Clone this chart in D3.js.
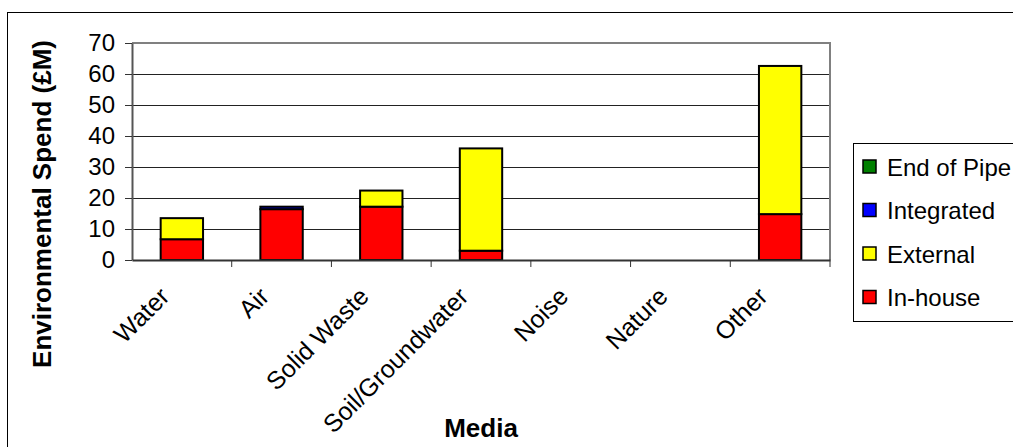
<!DOCTYPE html>
<html>
<head>
<meta charset="utf-8">
<script src="https://cdn.jsdelivr.net/npm/d3@7"></script>
<style>
  html, body { margin: 0; padding: 0; background: #fff; }
  svg { display: block; font-family: "Liberation Sans", Arial, sans-serif; }
</style>
</head>
<body>
<svg id="chart" width="1013" height="447"></svg>
<script>
// Environmental spend by media, split by spend type (£M)
const categories = ["Water", "Air", "Solid Waste", "Soil/Groundwater", "Noise", "Nature", "Other"];
const inHouse    = [6.7, 16.4, 17.2, 3.0, 0, 0, 14.8];
const external   = [6.8, 0, 5.2, 33.0, 0, 0, 47.8];
const integrated = [0, 0.8, 0, 0, 0, 0, 0];
const endOfPipe  = [0, 0, 0, 0, 0, 0, 0];
const seriesNames  = ["In-house", "External", "Integrated", "End of Pipe"];
const seriesColors = ["#ff0000", "#ffff00", "#0000ff", "#008000"];
const yTicks = [0, 10, 20, 30, 40, 50, 60, 70];

const svg = d3.select("#chart");

// Outer chart frame (runs off the right and bottom edges)
svg.append("rect")
  .attr("x", 7.5).attr("y", 12.5)
  .attr("width", 1100).attr("height", 500)
  .attr("fill", "#fff").attr("stroke", "#000").attr("stroke-width", 1);

const plot = { left: 132, right: 830, top: 43, bottom: 260 };

const x = d3.scaleBand()
  .domain(categories)
  .range([plot.left, plot.right])
  .paddingInner(0.575).paddingOuter(0.2875);

const xBand = d3.scaleBand().domain(categories).range([plot.left, plot.right]);

const y = d3.scaleLinear().domain([0, 70]).range([plot.bottom, plot.top]);

// Gridlines
svg.append("g")
  .selectAll("line")
  .data(yTicks.filter(d => d > 0 && d < 70))
  .join("line")
  .attr("x1", plot.left).attr("x2", plot.right)
  .attr("y1", d => Math.round(y(d)) + 0.5).attr("y2", d => Math.round(y(d)) + 0.5)
  .attr("stroke", "#222").attr("stroke-width", 1);

// Plot-area border top and right
svg.append("path")
  .attr("d", `M${plot.left},${plot.top} H${plot.right} V${plot.bottom}`)
  .attr("fill", "none").attr("stroke", "#808080").attr("stroke-width", 2);

// Stacked bars
const rows = categories.map((c, i) => ({
  cat: c,
  "In-house": inHouse[i],
  "External": external[i],
  "Integrated": integrated[i],
  "End of Pipe": endOfPipe[i]
}));
const stacked = d3.stack().keys(seriesNames)(rows);
const color = d3.scaleOrdinal().domain(seriesNames).range(seriesColors);

svg.append("g")
  .selectAll("g")
  .data(stacked)
  .join("g")
  .attr("fill", s => color(s.key))
  .selectAll("rect")
  .data(s => s.filter(d => d[1] - d[0] > 0))
  .join("rect")
  .attr("x", d => x(d.data.cat))
  .attr("width", x.bandwidth())
  .attr("y", d => y(d[1]))
  .attr("height", d => y(d[0]) - y(d[1]))
  .attr("stroke", "#000").attr("stroke-width", 2);

// Y axis
const yAxis = svg.append("g")
  .attr("transform", `translate(${plot.left},0)`)
  .call(d3.axisLeft(y).tickValues(yTicks).tickSize(7).tickPadding(10).tickSizeOuter(0));
yAxis.select(".domain").attr("stroke", "#555").attr("stroke-width", 2);
yAxis.selectAll(".tick line").attr("stroke", "#333");
yAxis.selectAll("text")
  .attr("font-size", 24).attr("fill", "#000")
  .attr("font-family", "Liberation Sans, Arial, sans-serif");

// X axis
const xAxis = svg.append("g")
  .attr("transform", `translate(0,${plot.bottom})`)
  .call(d3.axisBottom(xBand).tickSize(0).tickSizeOuter(0));
xAxis.select(".domain").attr("stroke", "#333").attr("stroke-width", 2);
xAxis.selectAll(".tick text").remove();

// Category separators below the axis
svg.append("g")
  .selectAll("line")
  .data(categories)
  .join("line")
  .attr("x1", d => xBand(d) + xBand.bandwidth())
  .attr("x2", d => xBand(d) + xBand.bandwidth())
  .attr("y1", plot.bottom).attr("y2", plot.bottom + 7)
  .attr("stroke", "#333").attr("stroke-width", 1);

// Rotated category labels
svg.append("g")
  .selectAll("text")
  .data(categories)
  .join("text")
  .attr("transform", d => `translate(${xBand(d) + xBand.bandwidth() / 2 - 11},${plot.bottom + 38}) rotate(-45)`)
  .attr("text-anchor", "end")
  .attr("font-size", 25)
  .text(d => d);

// Axis titles
svg.append("text")
  .attr("x", (plot.left + plot.right) / 2).attr("y", 437)
  .attr("text-anchor", "middle")
  .attr("font-size", 26).attr("font-weight", "bold")
  .text("Media");

svg.append("text")
  .attr("transform", `translate(51,${(43 + 365) / 2}) rotate(-90)`)
  .attr("text-anchor", "middle")
  .attr("font-size", 26).attr("font-weight", "bold")
  .text("Environmental Spend (£M)");

// Legend
const legend = svg.append("g");
legend.append("rect")
  .attr("x", 853.5).attr("y", 143.5)
  .attr("width", 200).attr("height", 178)
  .attr("fill", "#fff").attr("stroke", "#000").attr("stroke-width", 1);

const legendOrder = seriesNames.slice().reverse();
const item = legend.selectAll("g.item")
  .data(legendOrder)
  .join("g")
  .attr("class", "item")
  .attr("transform", (d, i) => `translate(863,${167 + i * 43.5})`);
item.append("rect")
  .attr("x", 0).attr("y", -7)
  .attr("width", 13).attr("height", 13)
  .attr("fill", d => color(d))
  .attr("stroke", "#000").attr("stroke-width", 1.5);
item.append("text")
  .attr("x", 24).attr("y", 0).attr("dy", "0.36em")
  .attr("font-size", 24)
  .text(d => d);
</script>
</body>
</html>
